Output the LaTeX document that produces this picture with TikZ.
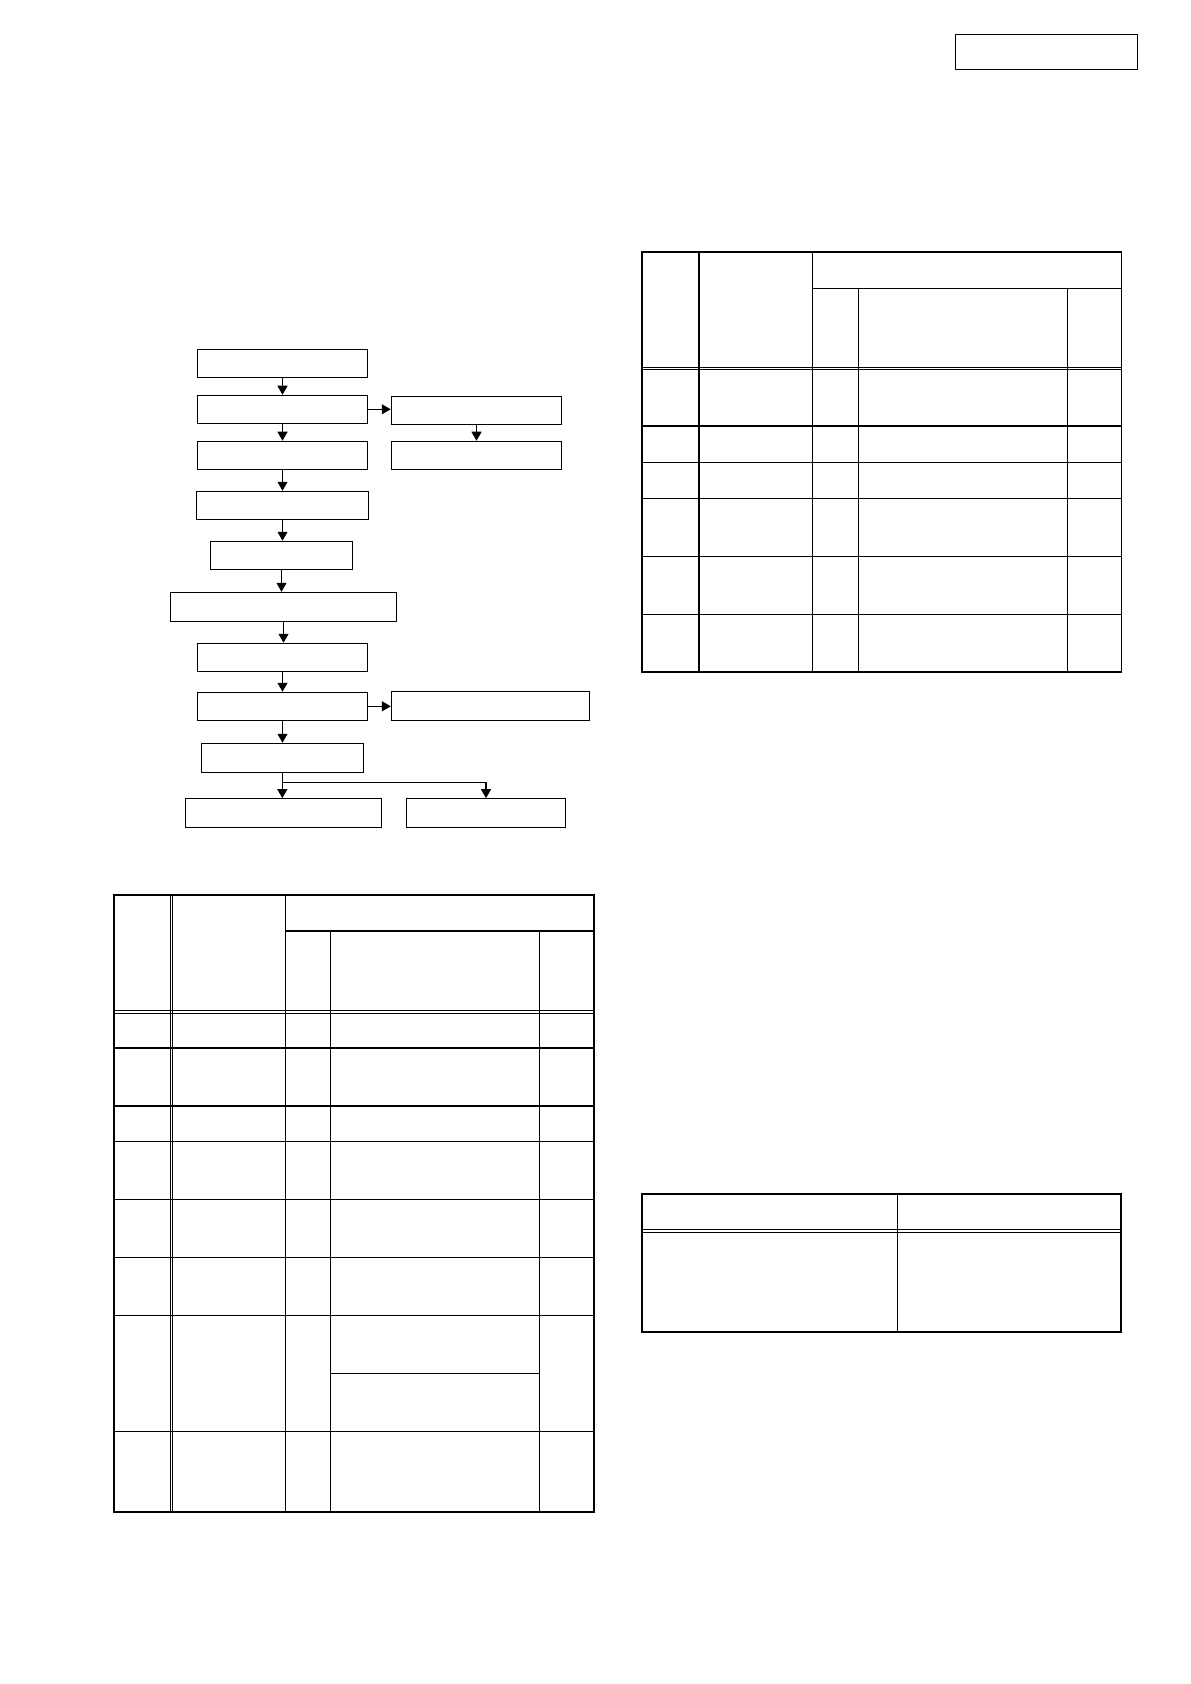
\documentclass[tikz,border=0pt]{standalone}
\usetikzlibrary{arrows.meta}
\begin{document}
\begin{tikzpicture}[x=0.5pt,y=-0.5pt,
 fbox/.style={draw,line width=0.55pt,inner sep=0pt,minimum height=14pt},
 flow/.style={line width=0.55pt,-{Triangle[width=5pt,length=4.5pt]}},
 thk/.style={line width=1pt},
 thn/.style={line width=0.55pt},
 dbl/.style={line width=0.4pt}]
\useasboundingbox (0,0) rectangle (1190,1684);
\fill[white] (0,0) rectangle (1190,1684);

% top-right box
\node[fbox,minimum width=91.05pt,minimum height=17.5pt] (tr) at (1046.35,51.8) {};

% flowchart
\node[fbox,minimum width=85.2pt] (b1) at (282.5,363.3) {};
\node[fbox,minimum width=85.2pt] (b2) at (282.5,409.3) {};
\node[fbox,minimum width=85.2pt] (r1) at (476.5,410.3) {};
\node[fbox,minimum width=85.2pt] (b3) at (282.5,455.3) {};
\node[fbox,minimum width=85.2pt] (r2) at (476.5,455.3) {};
\node[fbox,minimum width=86.2pt] (b4) at (282.5,505.3) {};
\node[fbox,minimum width=71.2pt] (b5) at (281.5,555.3) {};
\node[fbox,minimum width=113.2pt,minimum height=14.5pt] (b6) at (283.5,606.8) {};
\node[fbox,minimum width=85.2pt] (b7) at (282.5,657.3) {};
\node[fbox,minimum width=85.2pt] (b8) at (282.5,706.3) {};
\node[fbox,minimum width=98.85pt,minimum height=14.5pt] (r3) at (490.2,705.8) {};
\node[fbox,minimum width=81pt,minimum height=14.5pt] (b9) at (282.3,757.8) {};
\node[fbox,minimum width=98.2pt,minimum height=14.3pt] (b10) at (283.5,813) {};
\node[fbox,minimum width=79.7pt,minimum height=14.3pt] (b11) at (486,813) {};

\draw[flow] (b1.south) -- (b1.south |- b2.north);
\draw[flow] (b2.south) -- (b2.south |- b3.north);
\draw[flow] (b3.south) -- (b3.south |- b4.north);
\draw[flow] (b4.south) -- (b4.south |- b5.north);
\draw[flow] (b5.south) -- (b5.south |- b6.north);
\draw[flow] (b6.south) -- (b6.south |- b7.north);
\draw[flow] (b7.south) -- (b7.south |- b8.north);
\draw[flow] (b8.south) -- (b8.south |- b9.north);
\draw[flow] (b2.east) -- (b2.east -| r1.west);
\draw[flow] (r1.south) -- (r1.south |- r2.north);
\draw[flow] (b8.east) -- (b8.east -| r3.west);
\draw[flow] (b9.south) -- (b9.south |- b10.north);
\coordinate (j) at (486,782.3);
\draw[flow] (b9.south |- j) -| (b11.north);

% ---------- Table 1 ----------
\draw[thn] (285.3,895) -- (285.3,1511.5);
\draw[thn] (330.3,931) -- (330.3,1511.5);
\draw[thn] (539.7,931) -- (539.7,1511.5);
\draw[thn] (285.3,931) -- (594,931);
\foreach \yy in {1048,1106,1141.6,1199.7,1257.5,1315.5,1431.5}
  \draw[thn] (114,\yy) -- (594,\yy);
\draw[thn] (330.3,1373.5) -- (539.7,1373.5);
\draw[dbl] (114,1010.2) -- (594,1010.2);
\draw[dbl] (114,1012.9) -- (594,1012.9);
\draw[dbl] (169.9,895) -- (169.9,1511.5);
\draw[dbl] (172.6,895) -- (172.6,1511.5);
\draw[thk] (114,895) rectangle (594,1511.5);

% ---------- Table 2 ----------
\draw[thn] (812.3,251.7) -- (812.3,672);
\draw[thn] (858.3,288.3) -- (858.3,672);
\draw[thn] (1067.3,288.3) -- (1067.3,672);
\draw[thn] (812.3,288.3) -- (1121.7,288.3);
\foreach \yy in {426,462.3,498.3,556.3,614.3}
  \draw[thn] (641.7,\yy) -- (1121.7,\yy);
\draw[dbl] (641.7,367.2) -- (1121.7,367.2);
\draw[dbl] (641.7,369.9) -- (1121.7,369.9);
\draw[thn] (1121.7,251.7) -- (1121.7,672);
\draw[thk] (699,251.7) -- (699,672);
\draw[thk] (1121.7,251.7) -- (641.7,251.7) -- (641.7,672) -- (1121.7,672);

% ---------- Table 3 ----------
\draw[thn] (897.3,1194) -- (897.3,1332);
\draw[dbl] (641.7,1229.7) -- (1121,1229.7);
\draw[dbl] (641.7,1232.4) -- (1121,1232.4);
\draw[thk] (641.7,1194) rectangle (1121,1332);
\end{tikzpicture}
\end{document}
